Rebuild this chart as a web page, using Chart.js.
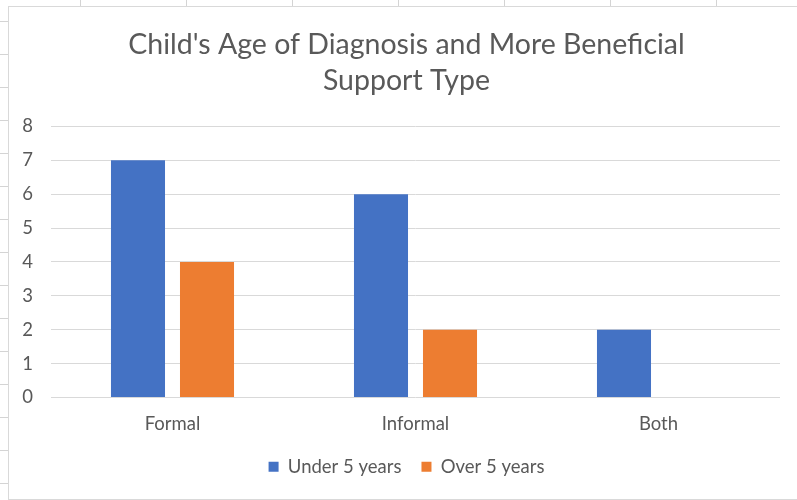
<!DOCTYPE html>
<html>
<head>
<meta charset="utf-8">
<script src="https://cdn.jsdelivr.net/npm/chart.js@4"></script>
<style>
  html, body { margin: 0; padding: 0; background: #fff; }
  body { width: 797px; height: 500px; position: relative; overflow: hidden; }
  /* faint sheet cell lines behind the chart box */
  .rowTicks {
    position: absolute; left: 0; top: 0; width: 8px; height: 500px;
    background: repeating-linear-gradient(to bottom, transparent 0, transparent 21px, #d4d4d4 21px, #d4d4d4 22px, transparent 22px, transparent 33px);
  }
  .colTicks {
    position: absolute; left: 0; top: 0; width: 797px; height: 6px;
    background: repeating-linear-gradient(to right, transparent 0, transparent 80px, #d4d4d4 80px, #d4d4d4 81px, transparent 81px, transparent 106px);
  }
  #box {
    position: absolute; left: 8px; top: 6px; width: 795px; height: 492px;
    border: 1px solid #d9d9d9; background: #fff;
  }
  canvas { display: block; }
</style>
</head>
<body>
<div class="rowTicks"></div>
<div class="colTicks"></div>
<div id="box"><canvas id="ageChart" width="795" height="492"></canvas></div>
<script>
const categories = ['Formal', 'Informal', 'Both'];
const under5 = [7, 6, 2];
const over5 = [4, 2, 0];
const yTicks = [0, 1, 2, 3, 4, 5, 6, 7, 8];

const textGrey = '#595959';
const gridGrey = '#d9d9d9';
const fontFamily = 'Lato, "Open Sans", sans-serif';

// fixed axis sizes; labels may spill outside the axis box
const fixSize = (prop, size) => (axis) => {
    axis[prop] = size;
    axis._computeLabelArea = () => undefined;
};

const ctx = document.getElementById('ageChart').getContext('2d');
const ageChart = new Chart(ctx, {
    type: 'bar',
    data: {
        labels: categories,
        datasets: [{
            label: 'Under 5 years',
            data: under5,
            backgroundColor: '#4472c4',
            categoryPercentage: 0.568,
            barPercentage: 0.783
        }, {
            label: 'Over 5 years',
            data: over5,
            backgroundColor: '#ed7d31',
            categoryPercentage: 0.568,
            barPercentage: 0.783
        }]
    },
    options: {
        responsive: false,
        animation: false,
        layout: { padding: { left: 24, right: 24, top: 8, bottom: 13 } },
        scales: {
            x: {
                afterFit: fixSize('height', 40),
                grid: { display: false, drawTicks: false },
                border: { display: false },
                ticks: { color: textGrey, font: { family: fontFamily, size: 18.5 }, padding: 15 }
            },
            y: {
                min: 0,
                max: yTicks[yTicks.length - 1],
                afterBuildTicks: (axis) => { axis.ticks = yTicks.map(v => ({ value: v })); },
                afterFit: fixSize('width', 18),
                grid: { color: gridGrey, lineWidth: 1, drawTicks: false },
                border: { display: false },
                ticks: { color: textGrey, font: { family: fontFamily, size: 18.5 }, padding: 18 }
            }
        },
        plugins: {
            title: {
                display: true,
                text: ["Child's Age of Diagnosis and More Beneficial", 'Support Type'],
                color: textGrey,
                font: { family: fontFamily, size: 28.5, weight: 'normal', lineHeight: 1.27 },
                padding: { top: 12, bottom: 27 }
            },
            legend: {
                position: 'bottom',
                labels: {
                    color: textGrey,
                    font: { family: fontFamily, size: 18.5 },
                    boxWidth: 10,
                    boxHeight: 10,
                    padding: 20
                }
            },
            tooltip: { enabled: false }
        }
    }
});
</script>
</body>
</html>
